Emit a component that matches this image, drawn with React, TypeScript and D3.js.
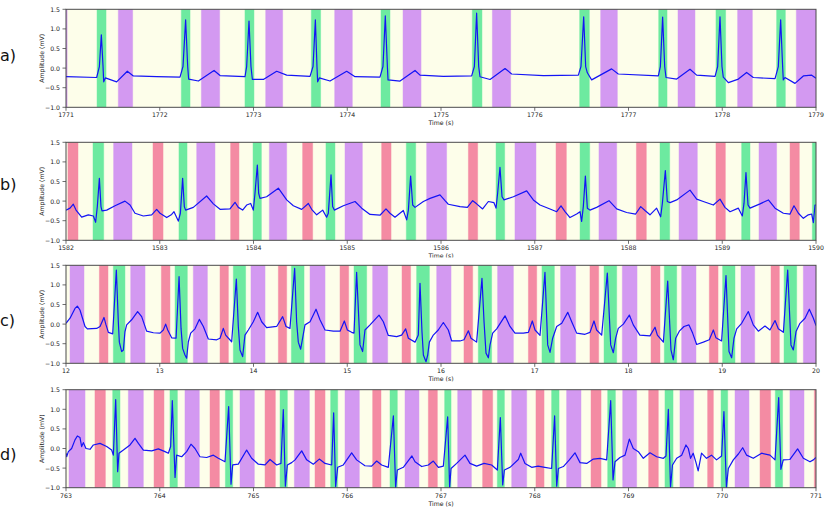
import React from 'react';
import * as d3 from 'd3';

const W = 831;
const H = 514;

// ---------- Panel a ----------
const aTicks = [1771, 1772, 1773, 1774, 1775, 1776, 1777, 1778, 1779];
const aRed: [number, number][] = [];
const aGreen: [number, number][] = [[1771.331,1771.427],[1772.230,1772.323],[1772.909,1773.005],[1773.617,1773.716],[1774.360,1774.456],[1775.334,1775.437],[1776.479,1776.582],[1777.322,1777.411],[1777.933,1778.036],[1778.580,1778.673]];
const aPurple: [number, number][] = [[1770.95,1771.012],[1771.558,1771.711],[1772.444,1772.639],[1773.130,1773.311],[1773.866,1774.054],[1774.595,1774.787],[1775.548,1775.743],[1776.703,1776.881],[1777.528,1777.709],[1778.164,1778.321],[1778.790,1779.0]];
const aSignal: [number, number][] = [[1771.000,-0.22],[1771.327,-0.24],[1771.356,0.04],[1771.377,0.85],[1771.395,0.04],[1771.402,-0.35],[1771.420,-0.25],[1771.540,-0.35],[1771.654,-0.08],[1771.718,-0.20],[1771.967,-0.22],[1772.216,-0.23],[1772.248,0.04],[1772.276,1.23],[1772.298,0.04],[1772.308,-0.28],[1772.412,-0.33],[1772.579,-0.06],[1772.643,-0.19],[1772.909,-0.22],[1772.927,0.04],[1772.952,1.20],[1772.973,0.04],[1772.988,-0.29],[1773.105,-0.29],[1773.247,-0.08],[1773.354,-0.18],[1773.603,-0.21],[1773.635,0.04],[1773.660,1.23],[1773.677,0.04],[1773.684,-0.35],[1773.702,-0.25],[1773.816,-0.33],[1773.994,-0.08],[1774.083,-0.22],[1774.349,-0.23],[1774.381,0.04],[1774.406,1.33],[1774.428,0.04],[1774.435,-0.30],[1774.563,-0.33],[1774.723,-0.06],[1774.776,-0.18],[1775.025,-0.21],[1775.327,-0.20],[1775.356,0.04],[1775.380,1.40],[1775.402,0.04],[1775.416,-0.22],[1775.523,-0.29],[1775.683,-0.01],[1775.754,-0.15],[1776.092,-0.19],[1776.465,-0.18],[1776.493,0.04],[1776.522,1.31],[1776.543,0.04],[1776.561,-0.12],[1776.607,-0.30],[1776.820,-0.02],[1776.891,-0.15],[1777.318,-0.20],[1777.340,0.04],[1777.364,1.30],[1777.386,0.04],[1777.400,-0.24],[1777.514,-0.28],[1777.656,-0.03],[1777.727,-0.18],[1777.923,-0.21],[1777.951,0.04],[1777.976,1.31],[1777.997,0.04],[1778.011,-0.23],[1778.065,-0.37],[1778.172,-0.28],[1778.260,-0.11],[1778.331,-0.24],[1778.563,-0.27],[1778.598,0.04],[1778.623,1.23],[1778.644,0.04],[1778.651,-0.30],[1778.669,-0.24],[1778.776,-0.39],[1778.865,-0.20],[1778.954,-0.18],[1779.000,-0.26]];

// ---------- Panel b ----------
const bTicks = [1582, 1583, 1584, 1585, 1586, 1587, 1588, 1589, 1590];
const bRed: [number, number][] = [[1582.021,1582.128],[1582.928,1583.035],[1583.756,1583.845],[1584.524,1584.631],[1585.367,1585.467],[1586.292,1586.391],[1587.227,1587.337],[1588.084,1588.190],[1588.933,1589.033],[1589.723,1589.822]];
const bGreen: [number, number][] = [[1582.288,1582.402],[1583.205,1583.291],[1583.995,1584.084],[1584.773,1584.869],[1585.630,1585.730],[1586.587,1586.679],[1587.483,1587.586],[1588.336,1588.439],[1589.207,1589.296],[1589.961,1590.0]];
const bPurple: [number, number][] = [[1582.508,1582.704],[1583.394,1583.589],[1584.169,1584.354],[1584.976,1585.161],[1585.847,1586.060],[1586.789,1587.013],[1587.685,1587.874],[1588.539,1588.734],[1589.392,1589.580]];
const bSignal: [number, number][] = [[1582.000,-0.23],[1582.043,-0.18],[1582.078,-0.08],[1582.107,-0.23],[1582.167,-0.41],[1582.238,-0.35],[1582.292,-0.38],[1582.316,-0.54],[1582.334,-0.14],[1582.356,0.58],[1582.373,-0.14],[1582.384,-0.25],[1582.434,-0.23],[1582.523,-0.12],[1582.629,0.00],[1582.683,-0.10],[1582.736,-0.31],[1582.825,-0.38],[1582.914,-0.35],[1582.967,-0.21],[1583.003,-0.31],[1583.074,-0.42],[1583.127,-0.34],[1583.152,-0.27],[1583.173,-0.38],[1583.198,-0.51],[1583.220,-0.31],[1583.244,0.58],[1583.262,-0.14],[1583.276,-0.23],[1583.358,-0.16],[1583.500,0.13],[1583.572,-0.07],[1583.643,-0.21],[1583.749,-0.20],[1583.803,-0.03],[1583.838,-0.16],[1583.884,-0.23],[1583.927,-0.10],[1583.970,-0.06],[1583.998,-0.23],[1584.016,0.20],[1584.041,0.92],[1584.055,0.20],[1584.069,0.07],[1584.140,0.11],[1584.265,0.33],[1584.354,0.03],[1584.425,-0.12],[1584.514,-0.21],[1584.585,-0.06],[1584.620,-0.21],[1584.674,-0.35],[1584.738,-0.23],[1584.780,-0.41],[1584.798,-0.31],[1584.827,0.67],[1584.844,-0.14],[1584.862,-0.23],[1584.958,-0.12],[1585.083,-0.01],[1585.154,-0.18],[1585.243,-0.34],[1585.349,-0.36],[1585.413,-0.20],[1585.456,-0.31],[1585.509,-0.41],[1585.598,-0.24],[1585.634,-0.48],[1585.652,-0.23],[1585.676,0.64],[1585.698,-0.10],[1585.723,-0.16],[1585.812,-0.01],[1585.883,0.07],[1585.989,0.16],[1586.043,0.01],[1586.078,-0.08],[1586.203,-0.14],[1586.281,-0.16],[1586.338,0.01],[1586.380,-0.07],[1586.444,-0.20],[1586.505,-0.01],[1586.565,-0.04],[1586.587,-0.18],[1586.604,0.20],[1586.629,0.86],[1586.651,0.11],[1586.672,0.03],[1586.772,0.11],[1586.914,0.26],[1586.985,0.03],[1587.056,-0.10],[1587.163,-0.20],[1587.234,-0.27],[1587.280,-0.12],[1587.323,-0.27],[1587.376,-0.42],[1587.447,-0.33],[1587.483,-0.27],[1587.500,-0.52],[1587.518,-0.14],[1587.540,0.64],[1587.561,-0.18],[1587.589,-0.23],[1587.660,-0.16],[1587.792,0.01],[1587.874,-0.20],[1587.980,-0.29],[1588.076,-0.33],[1588.130,-0.14],[1588.176,-0.24],[1588.229,-0.35],[1588.300,-0.18],[1588.343,-0.40],[1588.361,-0.06],[1588.393,0.78],[1588.414,-0.01],[1588.443,-0.04],[1588.514,0.03],[1588.656,0.28],[1588.727,0.05],[1588.798,-0.01],[1588.905,-0.10],[1588.976,0.05],[1589.029,-0.16],[1589.083,-0.27],[1589.172,-0.18],[1589.214,-0.38],[1589.232,-0.06],[1589.253,0.73],[1589.275,-0.10],[1589.296,-0.18],[1589.403,-0.07],[1589.492,0.03],[1589.563,-0.18],[1589.652,-0.31],[1589.723,-0.33],[1589.765,-0.12],[1589.812,-0.31],[1589.865,-0.44],[1589.918,-0.35],[1589.954,-0.33],[1589.972,-0.55],[1589.989,-0.10],[1590.000,-0.10]];

// ---------- Panel c ----------
const cTicks = [12, 13, 14, 15, 16, 17, 18, 19, 20];
const cRed: [number, number][] = [[12.356,12.448],[13.017,13.109],[13.643,13.732],[14.265,14.354],[14.923,15.015],[15.584,15.676],[16.245,16.338],[16.932,17.021],[17.589,17.682],[18.240,18.336],[18.862,18.955],[19.520,19.609]];
const cGreen: [number, number][] = [[12.505,12.629],[13.163,13.294],[13.785,13.916],[14.404,14.539],[15.072,15.207],[15.740,15.876],[16.398,16.540],[17.077,17.209],[17.739,17.874],[18.382,18.514],[19.004,19.136],[19.659,19.794]];
const cPurple: [number, number][] = [[12.043,12.192],[12.690,12.843],[13.358,13.508],[13.973,14.123],[14.603,14.763],[15.271,15.431],[15.954,16.107],[16.604,16.772],[17.276,17.436],[17.934,18.091],[18.567,18.720],[19.200,19.346],[19.865,20.0]];
const cSignal: [number, number][] = [[12.000,0.02],[12.043,0.15],[12.096,0.40],[12.121,0.46],[12.149,0.36],[12.203,-0.06],[12.228,-0.12],[12.327,-0.11],[12.363,-0.06],[12.405,0.17],[12.427,-0.02],[12.452,-0.21],[12.498,-0.25],[12.537,1.38],[12.558,0.06],[12.569,-0.46],[12.594,-0.70],[12.612,-0.66],[12.629,-0.19],[12.647,-0.02],[12.700,0.11],[12.764,0.32],[12.807,0.19],[12.860,-0.18],[12.932,-0.22],[13.003,-0.23],[13.038,-0.15],[13.063,0.00],[13.085,-0.15],[13.127,-0.35],[13.174,-0.36],[13.206,1.21],[13.227,-0.11],[13.244,-0.62],[13.269,-0.79],[13.287,-0.87],[13.305,-0.45],[13.330,-0.23],[13.376,-0.12],[13.422,0.12],[13.465,-0.06],[13.518,-0.38],[13.607,-0.40],[13.643,-0.36],[13.678,-0.11],[13.703,-0.28],[13.767,-0.45],[13.817,1.15],[13.838,-0.06],[13.856,-0.66],[13.884,-0.83],[13.909,-0.28],[13.945,-0.15],[13.998,0.06],[14.044,0.30],[14.087,0.06],[14.140,-0.09],[14.247,-0.06],[14.311,0.19],[14.347,-0.06],[14.389,-0.11],[14.439,1.42],[14.460,0.06],[14.478,-0.46],[14.503,-0.64],[14.524,-0.36],[14.549,-0.02],[14.603,0.06],[14.667,0.38],[14.709,0.11],[14.763,-0.15],[14.852,-0.18],[14.923,-0.18],[14.969,0.08],[15.001,-0.15],[15.047,-0.21],[15.072,-0.23],[15.100,1.32],[15.136,-0.53],[15.164,-0.70],[15.189,-0.15],[15.243,-0.02],[15.339,0.23],[15.385,0.06],[15.438,-0.29],[15.527,-0.32],[15.580,-0.28],[15.623,-0.12],[15.652,-0.36],[15.723,-0.46],[15.758,-0.28],[15.776,1.04],[15.797,-0.19],[15.812,-0.79],[15.840,-0.96],[15.858,-0.79],[15.876,-0.46],[15.918,-0.28],[15.971,-0.15],[16.025,0.04],[16.078,-0.15],[16.114,-0.43],[16.203,-0.43],[16.245,-0.40],[16.292,-0.17],[16.320,-0.36],[16.380,-0.46],[16.437,1.17],[16.459,0.06],[16.480,-0.74],[16.505,-0.86],[16.523,-0.53],[16.551,-0.23],[16.594,-0.12],[16.683,0.21],[16.736,-0.06],[16.789,-0.23],[16.878,-0.23],[16.932,-0.21],[16.974,0.08],[17.003,-0.15],[17.056,-0.29],[17.109,1.32],[17.138,-0.53],[17.163,-0.72],[17.191,-0.36],[17.234,-0.06],[17.288,0.02],[17.352,0.30],[17.394,0.06],[17.447,-0.23],[17.536,-0.26],[17.589,-0.21],[17.632,0.08],[17.660,-0.15],[17.714,-0.28],[17.774,1.30],[17.810,-0.53],[17.838,-0.73],[17.863,-0.36],[17.891,-0.11],[17.945,0.00],[18.009,0.23],[18.051,-0.02],[18.121,-0.28],[18.229,-0.30],[18.283,-0.08],[18.308,-0.28],[18.372,-0.46],[18.418,1.10],[18.453,-0.66],[18.478,-0.91],[18.503,-0.36],[18.542,-0.18],[18.592,-0.06],[18.645,-0.02],[18.684,-0.23],[18.727,-0.52],[18.798,-0.46],[18.862,-0.40],[18.905,-0.15],[18.933,-0.35],[18.993,-0.43],[19.040,1.24],[19.072,-0.70],[19.100,-0.86],[19.125,-0.36],[19.154,-0.12],[19.207,0.02],[19.278,0.32],[19.331,-0.02],[19.385,-0.18],[19.456,-0.05],[19.509,-0.15],[19.563,0.09],[19.598,-0.12],[19.652,-0.21],[19.698,1.38],[19.733,-0.53],[19.758,-0.66],[19.787,-0.19],[19.829,0.02],[19.883,0.15],[19.929,0.38],[19.972,0.15],[20.000,-0.04]];

// ---------- Panel d ----------
const dTicks = [763, 764, 765, 766, 767, 768, 769, 770, 771];
const dRed: [number, number][] = [[763.309,763.420],[763.939,764.045],[764.536,764.636],[765.123,765.233],[765.656,765.763],[766.271,766.360],[766.865,766.961],[767.444,767.551],[768.013,768.099],[768.600,768.707],[769.215,769.318],[769.844,769.905],[770.403,770.516],[770.982,771.0]];
const dGreen: [number, number][] = [[763.498,763.576],[764.109,764.188],[764.700,764.778],[765.283,765.361],[765.823,765.898],[766.456,766.534],[767.039,767.107],[767.601,767.676],[768.180,768.259],[768.778,768.860],[769.389,769.475],[769.987,770.058],[770.566,770.644]];
const dPurple: [number, number][] = [[763.032,763.203],[763.665,763.825],[764.269,764.422],[764.856,765.009],[765.436,765.596],[765.976,766.129],[766.616,766.765],[767.178,767.324],[767.754,767.914],[768.340,768.493],[768.938,769.087],[769.549,769.695],[770.136,770.285],[770.722,770.872]];
const dSignal: [number, number][] = [[763.000,-0.12],[763.007,-0.21],[763.025,-0.08],[763.060,0.00],[763.096,0.22],[763.121,0.32],[763.149,0.28],[763.167,0.05],[763.185,0.15],[763.213,0.00],[763.256,-0.02],[763.292,0.09],[763.363,0.13],[763.434,0.05],[763.487,-0.04],[763.505,-0.17],[763.530,1.25],[763.551,-0.59],[763.565,-0.12],[763.612,-0.04],[763.683,0.09],[763.736,0.26],[763.772,0.13],[763.825,-0.04],[763.914,-0.06],[763.985,-0.01],[764.056,-0.08],[764.092,-0.12],[764.116,0.05],[764.134,1.22],[764.163,-0.74],[764.180,-0.17],[764.234,-0.21],[764.287,-0.08],[764.333,0.11],[764.376,0.00],[764.429,-0.21],[764.500,-0.23],[764.572,-0.17],[764.625,-0.25],[764.696,-0.34],[764.735,1.07],[764.760,-0.91],[764.778,-0.42],[764.838,-0.40],[764.927,-0.04],[764.980,-0.25],[765.052,-0.40],[765.123,-0.42],[765.176,-0.28],[765.247,-0.42],[765.293,-0.38],[765.318,0.99],[765.340,-0.96],[765.361,-0.42],[765.407,-0.36],[765.443,-0.29],[765.514,-0.06],[765.567,-0.29],[765.638,-0.40],[765.702,-0.27],[765.763,-0.38],[765.834,-0.42],[765.855,0.91],[765.876,-0.97],[765.898,-0.48],[765.958,-0.42],[766.047,-0.11],[766.100,-0.29],[766.189,-0.44],[766.260,-0.45],[766.314,-0.32],[766.367,-0.42],[766.438,-0.48],[766.492,0.83],[766.516,-0.99],[766.534,-0.55],[766.598,-0.48],[766.690,-0.19],[766.723,-0.34],[766.794,-0.46],[766.865,-0.42],[766.918,-0.32],[766.972,-0.48],[767.025,-0.45],[767.071,0.81],[767.092,-0.99],[767.107,-0.51],[767.167,-0.38],[767.256,-0.17],[767.309,-0.38],[767.380,-0.45],[767.459,-0.38],[767.540,-0.42],[767.601,-0.55],[767.633,0.79],[767.658,-0.93],[767.676,-0.55],[767.736,-0.48],[767.825,-0.28],[767.850,-0.12],[767.896,-0.38],[767.967,-0.48],[768.036,-0.45],[768.107,-0.48],[768.180,-0.51],[768.212,0.83],[768.234,-0.96],[768.252,-0.51],[768.305,-0.46],[768.369,-0.29],[768.429,-0.11],[768.483,-0.36],[768.554,-0.38],[768.625,-0.27],[768.696,-0.25],[768.767,-0.29],[768.810,1.22],[768.835,-0.80],[768.856,-0.34],[768.909,-0.23],[768.963,-0.17],[769.009,0.24],[769.051,0.00],[769.105,-0.08],[769.158,-0.25],[769.229,-0.11],[769.300,-0.21],[769.372,-0.25],[769.400,-0.19],[769.425,1.00],[769.448,-0.99],[769.469,-0.42],[769.514,-0.25],[769.567,-0.17],[769.613,0.09],[769.638,0.00],[769.662,-0.25],[769.690,-0.12],[769.718,-0.34],[769.743,-0.57],[769.779,-0.12],[769.832,-0.25],[769.885,-0.17],[769.939,-0.29],[769.993,-0.19],[770.018,0.94],[770.044,-0.99],[770.065,-0.51],[770.118,-0.29],[770.172,-0.14],[770.218,0.02],[770.260,-0.17],[770.331,-0.25],[770.420,-0.12],[770.509,-0.17],[770.563,-0.29],[770.602,1.30],[770.625,-0.53],[770.651,-0.29],[770.722,-0.28],[770.804,-0.01],[770.865,-0.25],[770.936,-0.34],[770.972,-0.29],[771.000,-0.23]];

const yTicks = [1.5, 1.0, 0.5, 0.0, -0.5, -1.0];
const panelLabels = ['a)', 'b)', 'c)', 'd)'];

const X0 = 66;
const X1 = 816;
const PH = 98;
const TOPS = [9.3, 142.3, 265.3, 389.7];
const LABEL_Y = [55.7, 184, 320.7, 454];
const XLABEL_CLIP = [null, 257.5, 381.5, null];

const COLORS = {
  bg: '#fdfeea',
  red: '#f48ba3',
  green: '#6deaa0',
  purple: '#d399f1',
  line: '#1414f5',
  spine: '#4a4a4a',
  text: '#222',
};

const FONT = 'DejaVu Sans, sans-serif';

type Band = [number, number];

interface PanelProps {
  idx: number;
  ticks: number[];
  red: Band[];
  green: Band[];
  purple: Band[];
  signal: [number, number][];
}

function Panel({ idx, ticks, red, green, purple, signal }: PanelProps) {
  const top = TOPS[idx];
  const bottom = top + PH;
  const x = d3.scaleLinear().domain([ticks[0], ticks[ticks.length - 1]]).range([X0, X1]);
  const y = d3.scaleLinear().domain([-1, 1.5]).range([bottom, top]);
  const line = d3.line<[number, number]>().x(d => x(d[0])).y(d => y(d[1]));
  const clipId = `clip-${idx}`;
  const lblClipId = `lclip-${idx}`;
  const bands = (arr: Band[], color: string, key: string) =>
    arr.map((b, i) => (
      <rect key={key + i} x={x(b[0])} y={top} width={x(b[1]) - x(b[0])} height={PH}
        fill={color} stroke={color} strokeOpacity={0.45} strokeWidth={1} />
    ));
  const fmtY = (v: number) => (v < 0 ? '\u2212' : '') + Math.abs(v).toFixed(1);
  const clipY = XLABEL_CLIP[idx];
  return (
    <g>
      <defs>
        <clipPath id={clipId}>
          <rect x={X0} y={top} width={X1 - X0} height={PH} />
        </clipPath>
        {clipY !== null && (
          <clipPath id={lblClipId}>
            <rect x={0} y={0} width={W} height={clipY} />
          </clipPath>
        )}
      </defs>
      <text x={0} y={LABEL_Y[idx]} fontSize={16} fontFamily={FONT} fill="#111" dominantBaseline="central">
        {panelLabels[idx]}
      </text>
      <g clipPath={`url(#${clipId})`}>
        <rect x={X0} y={top} width={X1 - X0} height={PH} fill={COLORS.bg} />
        {bands(purple, COLORS.purple, 'p')}
        {bands(red, COLORS.red, 'r')}
        {bands(green, COLORS.green, 'g')}
        <path d={line(signal) || ''} fill="none" stroke={COLORS.line} strokeWidth={1.2} strokeLinejoin="round" />
      </g>
      <rect x={X0} y={top} width={X1 - X0} height={PH} fill="none" stroke={COLORS.spine} strokeWidth={1} />
      {yTicks.map(v => (
        <g key={'y' + v}>
          <line x1={X0 - 3.5} x2={X0} y1={y(v)} y2={y(v)} stroke={COLORS.spine} strokeWidth={0.8} />
          <text x={X0 - 6} y={y(v)} fontSize={6.2} fontFamily={FONT} fill={COLORS.text}
            textAnchor="end" dominantBaseline="central">{fmtY(v)}</text>
        </g>
      ))}
      {ticks.map(t => (
        <g key={'x' + t}>
          <line x1={x(t)} x2={x(t)} y1={bottom} y2={bottom + 3.5} stroke={COLORS.spine} strokeWidth={0.8} />
          <text x={x(t)} y={bottom + 7.5} fontSize={6.2} fontFamily={FONT} fill={COLORS.text}
            textAnchor="middle" dominantBaseline="central">{t}</text>
        </g>
      ))}
      <text transform={`translate(${41},${(top + bottom) / 2}) rotate(-90)`} fontSize={6.2} fontFamily={FONT}
        fill={COLORS.text} textAnchor="middle" dominantBaseline="central">Amplitude (mV)</text>
      <g clipPath={clipY !== null ? `url(#${lblClipId})` : undefined}>
        <text x={(X0 + X1) / 2} y={bottom + 15.5} fontSize={6.2} fontFamily={FONT} fill={COLORS.text}
          textAnchor="middle" dominantBaseline="central">Time (s)</text>
      </g>
    </g>
  );
}

export default function App() {
  return (
    <svg width={W} height={H} viewBox={`0 0 ${W} ${H}`}
      style={{ position: 'absolute', left: 0, top: 0, background: '#fff' }}>
      <rect x={0} y={0} width={W} height={H} fill="#fff" />
      <Panel idx={0} ticks={aTicks} red={aRed} green={aGreen} purple={aPurple} signal={aSignal} />
      <Panel idx={1} ticks={bTicks} red={bRed} green={bGreen} purple={bPurple} signal={bSignal} />
      <Panel idx={2} ticks={cTicks} red={cRed} green={cGreen} purple={cPurple} signal={cSignal} />
      <Panel idx={3} ticks={dTicks} red={dRed} green={dGreen} purple={dPurple} signal={dSignal} />
    </svg>
  );
}
